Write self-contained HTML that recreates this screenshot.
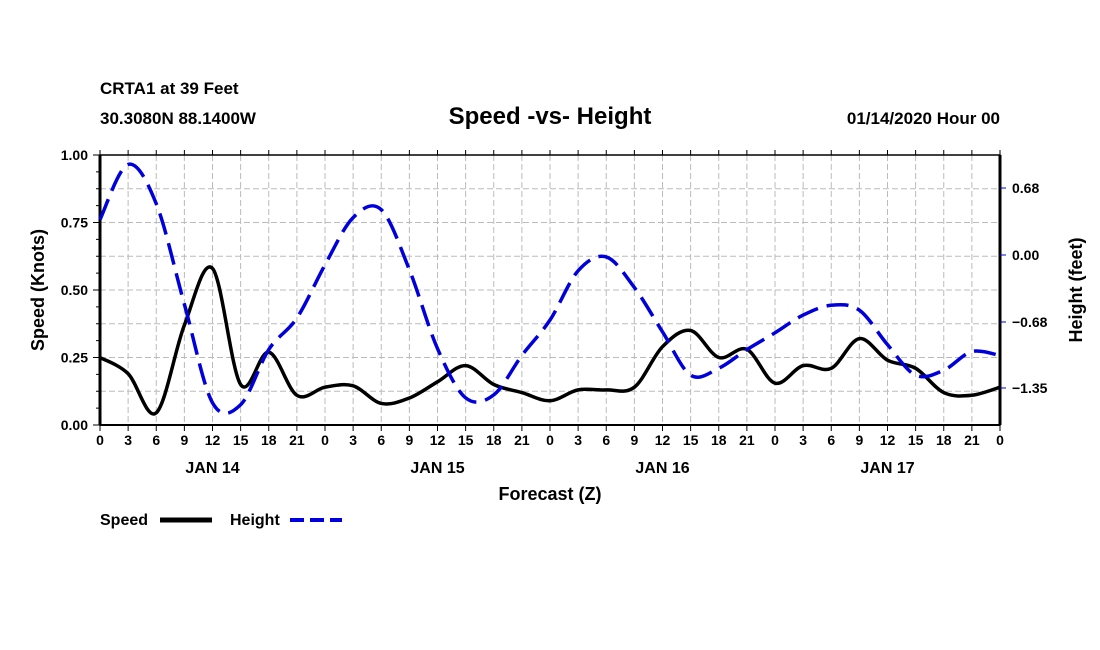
<!DOCTYPE html>
<html><head><meta charset="utf-8"><style>
body{margin:0;background:#fff;}
svg{display:block;font-family:"Liberation Sans",Arial,sans-serif;font-weight:bold;}
</style></head><body>
<svg width="1100" height="650" xmlns="http://www.w3.org/2000/svg">
<text x="100" y="94" font-size="17">CRTA1 at 39 Feet</text>
<text x="100" y="124" font-size="17">30.3080N 88.1400W</text>
<text x="550" y="124" font-size="24" text-anchor="middle">Speed -vs- Height</text>
<text x="1000" y="124" font-size="17" text-anchor="end">01/14/2020 Hour 00</text>
<g id="grid"></g>
<g id="axes"></g>
<g id="series"></g>
<text x="550" y="500" font-size="18" text-anchor="middle">Forecast (Z)</text>
<text transform="translate(44,290) rotate(-90)" font-size="18" text-anchor="middle">Speed (Knots)</text>
<text transform="translate(1082,290) rotate(-90)" font-size="18" text-anchor="middle">Height (feet)</text>
<g><text x="100" y="525" font-size="16">Speed</text><line x1="160" y1="520" x2="212" y2="520" stroke="#000" stroke-width="5"/></g>
<g><text x="230" y="525" font-size="16">Height</text><line x1="290" y1="520" x2="342" y2="520" stroke="#0000dd" stroke-width="4" stroke-dasharray="14,6"/></g>
</svg>
<script>
const hours=[0,3,6,9,12,15,18,21,24,27,30,33,36,39,42,45,48,51,54,57,60,63,66,69,72,75,78,81,84,87,90,93,96];
const speed=[0.25,0.19,0.045,0.37,0.58,0.15,0.27,0.11,0.14,0.145,0.08,0.10,0.16,0.22,0.15,0.12,0.09,0.13,0.13,0.14,0.29,0.35,0.25,0.28,0.155,0.22,0.21,0.32,0.24,0.21,0.12,0.11,0.14];
const height=[0.36,0.92,0.52,-0.5,-1.5,-1.52,-0.96,-0.64,-0.1,0.38,0.46,-0.15,-0.95,-1.45,-1.42,-1.02,-0.66,-0.16,-0.02,-0.33,-0.78,-1.22,-1.15,-0.96,-0.79,-0.61,-0.51,-0.56,-0.91,-1.22,-1.17,-0.98,-1.02];
const speedTicks=[0,0.25,0.5,0.75,1.0];
const heightTicks=[0.68,0.00,-0.68,-1.35];
const dayLabels=["JAN 14","JAN 15","JAN 16","JAN 17"];
const L=100,R=1000,T=155,B=425;
const X=h=>L+(R-L)*h/96;
const YS=v=>B-(B-T)*v;
const YH=v=>255-98.5*v;
const NS="http://www.w3.org/2000/svg";
function mk(tag,attrs,parent){const e=document.createElementNS(NS,tag);for(const k in attrs)e.setAttribute(k,attrs[k]);parent.appendChild(e);return e;}
const grid=document.getElementById('grid'),axes=document.getElementById('axes'),series=document.getElementById('series');
for(let h=3;h<96;h+=3){const g=mk('line',{x1:X(h),x2:X(h),y1:T,y2:B,stroke:'#bbb','stroke-dasharray':'6,3','stroke-width':1},grid);}
for(let v=0.125;v<1;v+=0.125){const g=mk('line',{x1:L,x2:R,y1:YS(v),y2:YS(v),stroke:'#bbb','stroke-dasharray':'6,3','stroke-width':1},grid);}
mk('rect',{x:L,y:T,width:R-L,height:B-T,fill:'none',stroke:'#000','stroke-width':1.5},axes);
mk('line',{x1:L,x2:L,y1:T,y2:B,stroke:'#000','stroke-width':3},axes);
mk('line',{x1:R,x2:R,y1:T,y2:B,stroke:'#000','stroke-width':3},axes);
mk('line',{x1:L,x2:R,y1:B,y2:B,stroke:'#000','stroke-width':2},axes);
for(let h=0;h<=96;h+=3){
 mk('line',{x1:X(h),x2:X(h),y1:B,y2:B+6,stroke:'#000'},axes);
 mk('line',{x1:X(h),x2:X(h),y1:T,y2:T-5,stroke:'#000'},axes);
 const t=mk('text',{x:X(h),y:B+20,'font-size':14,'text-anchor':'middle'},axes);t.textContent=String(h%24);
 
}
dayLabels.forEach((d,i)=>{const t=mk('text',{x:X(12+24*i),y:B+48,'font-size':16,'text-anchor':'middle'},axes);t.textContent=d;
 });
for(let v=0;v<=1.0001;v+=0.0625){mk('line',{x1:L,x2:L-(Math.abs(v*4-Math.round(v*4))<1e-6?7:4),y1:YS(v),y2:YS(v),stroke:'#000'},axes);}
speedTicks.forEach(v=>{const t=mk('text',{x:L-12,y:YS(v)+5,'font-size':14,'text-anchor':'end'},axes);t.textContent=v.toFixed(2);
 });
heightTicks.forEach(v=>{mk('line',{x1:R,x2:R+6,y1:YH(v),y2:YH(v),stroke:'#0000dd'},axes);
 const t=mk('text',{x:R+12,y:YH(v)+5,'font-size':14},axes);t.textContent=(v<0?'\u2212':'')+Math.abs(v).toFixed(2);
 });
function curve(pts){let d='M'+pts[0][0]+','+pts[0][1];for(let i=0;i<pts.length-1;i++){const p0=pts[Math.max(0,i-1)],p1=pts[i],p2=pts[i+1],p3=pts[Math.min(pts.length-1,i+2)];
 d+=' C'+(p1[0]+(p2[0]-p0[0])/6)+','+(p1[1]+(p2[1]-p0[1])/6)+' '+(p2[0]-(p3[0]-p1[0])/6)+','+(p2[1]-(p3[1]-p1[1])/6)+' '+p2[0]+','+p2[1];}return d;}
const sp=mk('path',{d:curve(hours.map((h,i)=>[X(h),YS(speed[i])])),fill:'none',stroke:'#000','stroke-width':3.5},series);

const hp=mk('path',{d:curve(hours.map((h,i)=>[X(h),YH(height[i])])),fill:'none',stroke:'#0000dd','stroke-width':3.5,'stroke-dasharray':'22,9'},series);

</script>
</body></html>
